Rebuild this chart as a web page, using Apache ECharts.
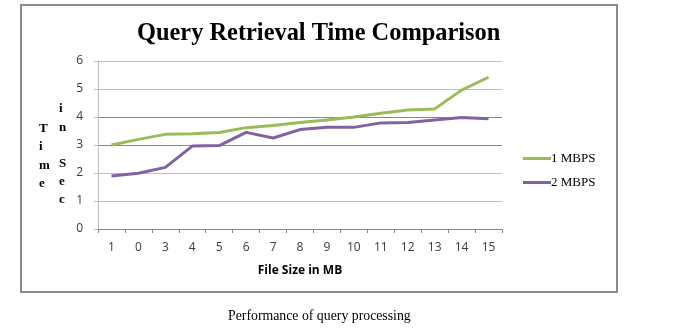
<!DOCTYPE html>
<html><head><meta charset="utf-8">
<script src="https://cdn.jsdelivr.net/npm/echarts@6/dist/echarts.min.js"></script>
<style>html,body{margin:0;padding:0;background:#fff}#c{width:676px;height:328px}</style>
</head><body><div id="c"></div>
<script>
const categories = ['1','0','3','4','5','6','7','8','9','10','11','12','13','14','15'];
const mbps1 = [3.0, 3.2, 3.38, 3.4, 3.45, 3.62, 3.7, 3.8, 3.89, 4.0, 4.13, 4.25, 4.29, 4.96, 5.42];
const mbps2 = [1.89, 1.99, 2.2, 2.96, 2.98, 3.45, 3.25, 3.55, 3.63, 3.63, 3.79, 3.8, 3.89, 3.98, 3.94];
const yTicks = [0, 1, 2, 3, 4, 5, 6];

const chart = echarts.init(document.getElementById('c'), null, {renderer: 'canvas'});
const serif = '"Liberation Serif", "DejaVu Serif", serif';
const sans = '"Open Sans", "Liberation Sans", sans-serif';
chart.setOption({
  animation: false,
  title: {
    text: 'Query Retrieval Time Comparison',
    left: 132, top: 17,
    textStyle: {fontFamily: serif, fontWeight: 'bold', fontSize: 24.4, color: '#000'}
  },
  legend: {
    orient: 'vertical', left: 518, top: 147,
    itemWidth: 28, itemHeight: 14, itemGap: 11,
    icon: 'path://M0,0 L28,0 L28,3 L0,3 Z',
    textStyle: {fontFamily: serif, fontSize: 13, color: '#000', padding: [0, 0, 0, -5]},
    data: ['1 MBPS', '2 MBPS']
  },
  grid: {left: 98, right: 174, top: 61, bottom: 99, containLabel: false},
  xAxis: {
    type: 'category', data: categories, boundaryGap: true,
    name: 'File Size in MB', nameLocation: 'middle', nameGap: 36,
    nameTextStyle: {fontFamily: sans, fontWeight: 'bold', fontSize: 12, color: '#000'},
    axisLine: {lineStyle: {color: '#878787', width: 1}},
    axisTick: {show: true, length: 4, lineStyle: {color: '#878787'}},
    axisLabel: {fontFamily: sans, fontSize: 12, color: '#3a3a3a', margin: 13},
    splitLine: {show: false}
  },
  yAxis: {
    type: 'value', min: yTicks[0], max: yTicks[yTicks.length - 1], interval: 1,
    axisLine: {show: true, lineStyle: {color: '#bfbfbf'}},
    axisTick: {show: true, length: 4, lineStyle: {color: '#bfbfbf'}},
    axisLabel: {fontFamily: sans, fontSize: 12, color: '#3a3a3a', margin: 15},
    splitLine: {show: true, lineStyle: {color: ['#bfbfbf','#bfbfbf','#bfbfbf','#878787','#878787','#bfbfbf','#bfbfbf'], width: 1}}
  },
  series: [
    {name: '1 MBPS', type: 'line', data: mbps1, symbol: 'none', lineStyle: {color: '#9bbb59', width: 3}, itemStyle: {color: '#9bbb59'}},
    {name: '2 MBPS', type: 'line', data: mbps2, symbol: 'none', lineStyle: {color: '#8064a2', width: 3}, itemStyle: {color: '#8064a2'}}
  ],
  graphic: [
    {type: 'rect', shape: {x: 21, y: 5, width: 596, height: 287}, style: {fill: 'none', stroke: '#8c8c8c', lineWidth: 2}, silent: true},
    {type: 'text', left: 39, top: 119, style: {text: 'T\ni\nm\ne', fontFamily: serif, fontWeight: 'bold', fontSize: 13, lineHeight: 18.5, fill: '#000', align: 'center'}},
    {type: 'text', left: 59, top: 100, style: {text: 'i\nn\n \nS\ne\nc', fontFamily: serif, fontWeight: 'bold', fontSize: 13, lineHeight: 18.2, fill: '#000', align: 'center'}},
    {type: 'text', left: 228, top: 309, style: {text: 'Performance of query processing', fontFamily: serif, fontSize: 13.8, fill: '#000'}}
  ]
});
</script></body></html>
